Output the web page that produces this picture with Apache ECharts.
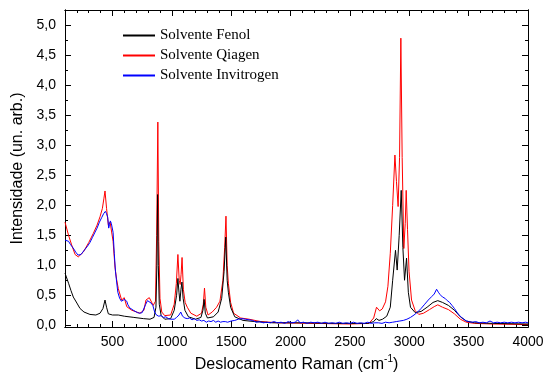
<!DOCTYPE html>
<html>
<head>
<meta charset="utf-8">
<script src="https://cdn.jsdelivr.net/npm/echarts@6/dist/echarts.min.js"></script>
<style>
  html, body { margin: 0; padding: 0; background: #fff; }
  #main { width: 547px; height: 376px; }
</style>
</head>
<body>
<div id="main"></div>
<script>
const seriesNames = ['Solvente Fenol', 'Solvente Qiagen', 'Solvente Invitrogen'];
const seriesColors = ['#000000', '#ff0000', '#0000ff'];

const xMajorTicks = [500, 1000, 1500, 2000, 2500, 3000, 3500, 4000];
const yMajorTicks = [0, 0.5, 1, 1.5, 2, 2.5, 3, 3.5, 4, 4.5, 5];
const xMinorTicks = [];
for (let v = 100; v <= 4000; v += 100) xMinorTicks.push(v);
const yMinorTicks = [];
for (let v = 0; v <= 5.25; v += 0.25) yMinorTicks.push(+v.toFixed(2));

// [Raman shift (cm-1), intensity]
const fenol = [
  [100,0.87],[108,0.86],[130,0.70],[150,0.58],[170,0.47],[200,0.37],[226,0.28],[260,0.22],
  [310,0.18],[360,0.17],[395,0.20],[420,0.28],[437,0.42],[450,0.30],[465,0.19],[500,0.17],
  [549,0.17],[600,0.15],[680,0.13],[760,0.11],[816,0.10],[850,0.13],[866,0.30],[874,1.00],
  [880,2.18],[886,1.00],[894,0.35],[910,0.16],[940,0.10],[990,0.11],[1020,0.25],[1040,0.50],
  [1051,0.78],[1060,0.55],[1068,0.40],[1077,0.60],[1085,0.72],[1095,0.45],[1110,0.25],
  [1140,0.14],[1200,0.10],[1245,0.13],[1262,0.25],[1272,0.43],[1282,0.20],[1300,0.12],
  [1350,0.14],[1390,0.22],[1420,0.45],[1440,0.90],[1454,1.47],[1466,0.75],[1476,0.55],
  [1483,0.56],[1495,0.30],[1530,0.14],[1600,0.08],[1700,0.06],[1850,0.04],[2100,0.04],
  [2400,0.03],[2650,0.03],[2700,0.06],[2722,0.11],[2745,0.08],[2775,0.10],[2810,0.15],
  [2840,0.30],[2860,0.75],[2884,1.25],[2898,0.92],[2915,1.50],[2932,2.25],[2946,1.30],
  [2960,0.75],[2977,1.12],[2992,0.55],[3010,0.30],[3050,0.21],[3100,0.23],[3150,0.30],
  [3200,0.38],[3240,0.41],[3280,0.38],[3330,0.33],[3380,0.25],[3430,0.14],[3480,0.07],
  [3550,0.04],[3700,0.03],[4000,0.02]
];

const qiagen = [
  [100,1.72],[108,1.72],[130,1.50],[156,1.34],[185,1.18],[212,1.14],[254,1.22],[300,1.38],
  [338,1.53],[370,1.67],[395,1.81],[415,1.95],[428,2.12],[437,2.24],[450,1.95],[465,1.67],
  [480,1.72],[493,1.75],[505,1.40],[521,0.97],[535,0.76],[549,0.61],[577,0.42],[599,0.46],
  [620,0.31],[662,0.25],[731,0.20],[765,0.25],[782,0.42],[810,0.46],[843,0.33],[862,0.40],
  [872,1.50],[882,3.39],[890,1.40],[900,0.45],[915,0.22],[940,0.16],[990,0.17],[1020,0.35],
  [1038,0.70],[1051,1.18],[1062,0.75],[1070,0.68],[1078,0.85],[1086,1.13],[1097,0.60],
  [1112,0.38],[1130,0.30],[1160,0.20],[1210,0.15],[1250,0.20],[1265,0.35],[1275,0.62],
  [1286,0.30],[1305,0.17],[1340,0.22],[1377,0.30],[1405,0.40],[1430,0.75],[1445,1.30],
  [1456,1.82],[1466,1.00],[1476,0.70],[1483,0.72],[1495,0.38],[1520,0.20],[1580,0.12],
  [1650,0.10],[1750,0.06],[1900,0.04],[2200,0.03],[2500,0.02],[2660,0.03],[2700,0.12],
  [2724,0.30],[2750,0.24],[2772,0.27],[2800,0.39],[2820,0.65],[2840,1.20],[2860,2.00],
  [2879,2.84],[2892,2.40],[2906,1.98],[2918,2.80],[2929,4.79],[2940,2.80],[2954,1.28],
  [2966,1.70],[2974,2.25],[2985,1.60],[2998,0.90],[3019,0.42],[3050,0.24],[3080,0.18],
  [3120,0.20],[3170,0.26],[3210,0.31],[3240,0.34],[3280,0.30],[3330,0.26],[3380,0.19],
  [3430,0.10],[3480,0.05],[3550,0.03],[3700,0.02],[4000,0.01]
];

const invitrogen = [
  [100,1.42],[115,1.41],[130,1.40],[145,1.35],[160,1.31],[175,1.27],[190,1.22],[200,1.20],
  [210,1.17],[220,1.19],[235,1.18],[250,1.22],[270,1.27],[290,1.32],[310,1.38],[330,1.46],
  [350,1.54],[370,1.62],[390,1.72],[410,1.80],[425,1.86],[440,1.90],[450,1.86],[460,1.80],
  [468,1.62],[475,1.68],[482,1.74],[490,1.70],[498,1.72],[505,1.55],[515,1.20],[525,0.90],
  [535,0.72],[545,0.55],[560,0.45],[575,0.40],[590,0.38],[600,0.43],[610,0.46],[620,0.40],
  [630,0.34],[645,0.29],[660,0.26],[675,0.25],[690,0.22],[710,0.21],[730,0.20],[750,0.21],
  [765,0.24],[780,0.35],[795,0.41],[810,0.39],[825,0.37],[840,0.33],[855,0.22],[870,0.17],
  [890,0.15],[910,0.16],[930,0.13],[950,0.14],[970,0.11],[990,0.10],[1005,0.07],[1020,0.10],
  [1040,0.13],[1060,0.17],[1075,0.22],[1090,0.15],[1110,0.12],[1130,0.11],[1150,0.12],
  [1170,0.09],[1190,0.11],[1210,0.08],[1230,0.09],[1250,0.07],[1270,0.08],[1290,0.05],
  [1310,0.07],[1330,0.06],[1350,0.08],[1370,0.05],[1390,0.07],[1410,0.05],[1430,0.06],
  [1450,0.06],[1470,0.05],[1500,0.07],[1530,0.08],[1560,0.10],[1590,0.11],[1620,0.10],
  [1650,0.09],[1680,0.08],[1710,0.05],[1740,0.06],[1770,0.04],[1800,0.05],[1830,0.04],
  [1860,0.06],[1890,0.04],[1920,0.05],[1950,0.03],[1980,0.06],[2010,0.04],[2040,0.05],
  [2060,0.09],[2080,0.04],[2110,0.05],[2140,0.03],[2170,0.05],[2200,0.04],[2230,0.05],
  [2260,0.03],[2290,0.05],[2320,0.03],[2350,0.04],[2380,0.03],[2410,0.05],[2440,0.03],
  [2470,0.04],[2500,0.03],[2530,0.05],[2560,0.03],[2590,0.04],[2620,0.03],[2650,0.05],
  [2680,0.03],[2710,0.04],[2740,0.04],[2770,0.03],[2800,0.05],[2830,0.04],[2860,0.05],
  [2890,0.06],[2920,0.07],[2950,0.08],[2980,0.10],[3010,0.13],[3040,0.17],[3070,0.22],
  [3100,0.28],[3130,0.35],[3160,0.42],[3190,0.48],[3210,0.52],[3230,0.60],[3245,0.55],
  [3260,0.51],[3280,0.47],[3300,0.45],[3320,0.41],[3340,0.38],[3360,0.33],[3380,0.28],
  [3400,0.22],[3420,0.17],[3440,0.13],[3460,0.10],[3480,0.07],[3500,0.06],[3530,0.05],
  [3560,0.06],[3590,0.04],[3620,0.05],[3650,0.04],[3680,0.07],[3710,0.04],[3740,0.05],
  [3770,0.04],[3800,0.05],[3830,0.04],[3860,0.05],[3890,0.04],[3920,0.05],[3950,0.04],
  [3980,0.05],[4000,0.04]
];

const X_MIN = 100, X_MAX = 4000, Y_MIN = -0.03, Y_MAX = 5.26;
const black = '#000';

// one axis per side for minor ticks, one overlay for longer major ticks
function frameAxis(pos, min, max, ticks, len, extra) {
  return Object.assign({
    type: 'value',
    position: pos,
    min: min,
    max: max,
    axisLine: { show: true, onZero: false, lineStyle: { color: black, width: 1 } },
    axisTick: { show: true, inside: true, length: len, customValues: ticks, lineStyle: { color: black } },
    axisLabel: { show: false },
    splitLine: { show: false }
  }, extra || {});
}

const labelFont = { fontFamily: 'Liberation Sans', fontSize: 14, color: black };

const option = {
  animation: false,
  backgroundColor: '#fff',
  textStyle: { fontFamily: 'Liberation Sans' },
  grid: { left: 65, right: 19, top: 10, bottom: 49, outerBoundsMode: 'none' },
  legend: {
    data: seriesNames,
    orient: 'vertical',
    left: 122,
    top: 28,
    padding: 0,
    itemWidth: 32,
    itemHeight: 14,
    itemGap: 5,
    itemStyle: { opacity: 0 },   // hide the dot the line icon gets
    textStyle: { fontFamily: 'Liberation Serif', fontSize: 15, color: black }
  },
  xAxis: [
    frameAxis('bottom', X_MIN, X_MAX, xMinorTicks, 3, {
      axisLabel: Object.assign({
        show: true, customValues: xMajorTicks, margin: 8,
        formatter: v => String(v)
      }, labelFont),
      name: '{a|Deslocamento Raman (cm}{s|-1}{a|)}',
      nameLocation: 'middle',
      nameGap: 27,
      nameTextStyle: {
        rich: {
          a: { fontFamily: 'Liberation Sans', fontSize: 16, lineHeight: 22, color: black },
          s: { fontFamily: 'Liberation Sans', fontSize: 10, lineHeight: 10, color: black, verticalAlign: 'top' }
        }
      }
    }),
    frameAxis('bottom', X_MIN, X_MAX, xMajorTicks, 6),
    frameAxis('top', X_MIN, X_MAX, xMinorTicks, 3),
    frameAxis('top', X_MIN, X_MAX, xMajorTicks, 6)
  ],
  yAxis: [
    frameAxis('left', Y_MIN, Y_MAX, yMinorTicks, 3, {
      axisLabel: Object.assign({
        show: true, customValues: yMajorTicks, margin: 9,
        formatter: v => v.toFixed(1).replace('.', ',')
      }, labelFont),
      name: 'Intensidade (un. arb.)',
      nameLocation: 'middle',
      nameGap: 36,
      nameTextStyle: { fontFamily: 'Liberation Sans', fontSize: 16, color: black }
    }),
    frameAxis('left', Y_MIN, Y_MAX, yMajorTicks, 6),
    frameAxis('right', Y_MIN, Y_MAX, yMinorTicks, 3),
    frameAxis('right', Y_MIN, Y_MAX, yMajorTicks, 6)
  ],
  series: [
    { name: seriesNames[1], data: qiagen, color: seriesColors[1] },
    { name: seriesNames[0], data: fenol, color: seriesColors[0] },
    { name: seriesNames[2], data: invitrogen, color: seriesColors[2] }
  ].map(s => ({
    name: s.name,
    type: 'line',
    data: s.data,
    xAxisIndex: 0,
    yAxisIndex: 0,
    symbol: 'none',
    color: s.color,
    lineStyle: { width: 1, color: s.color }
  }))
};

const chart = echarts.init(document.getElementById('main'));
chart.setOption(option);
</script>
</body>
</html>
